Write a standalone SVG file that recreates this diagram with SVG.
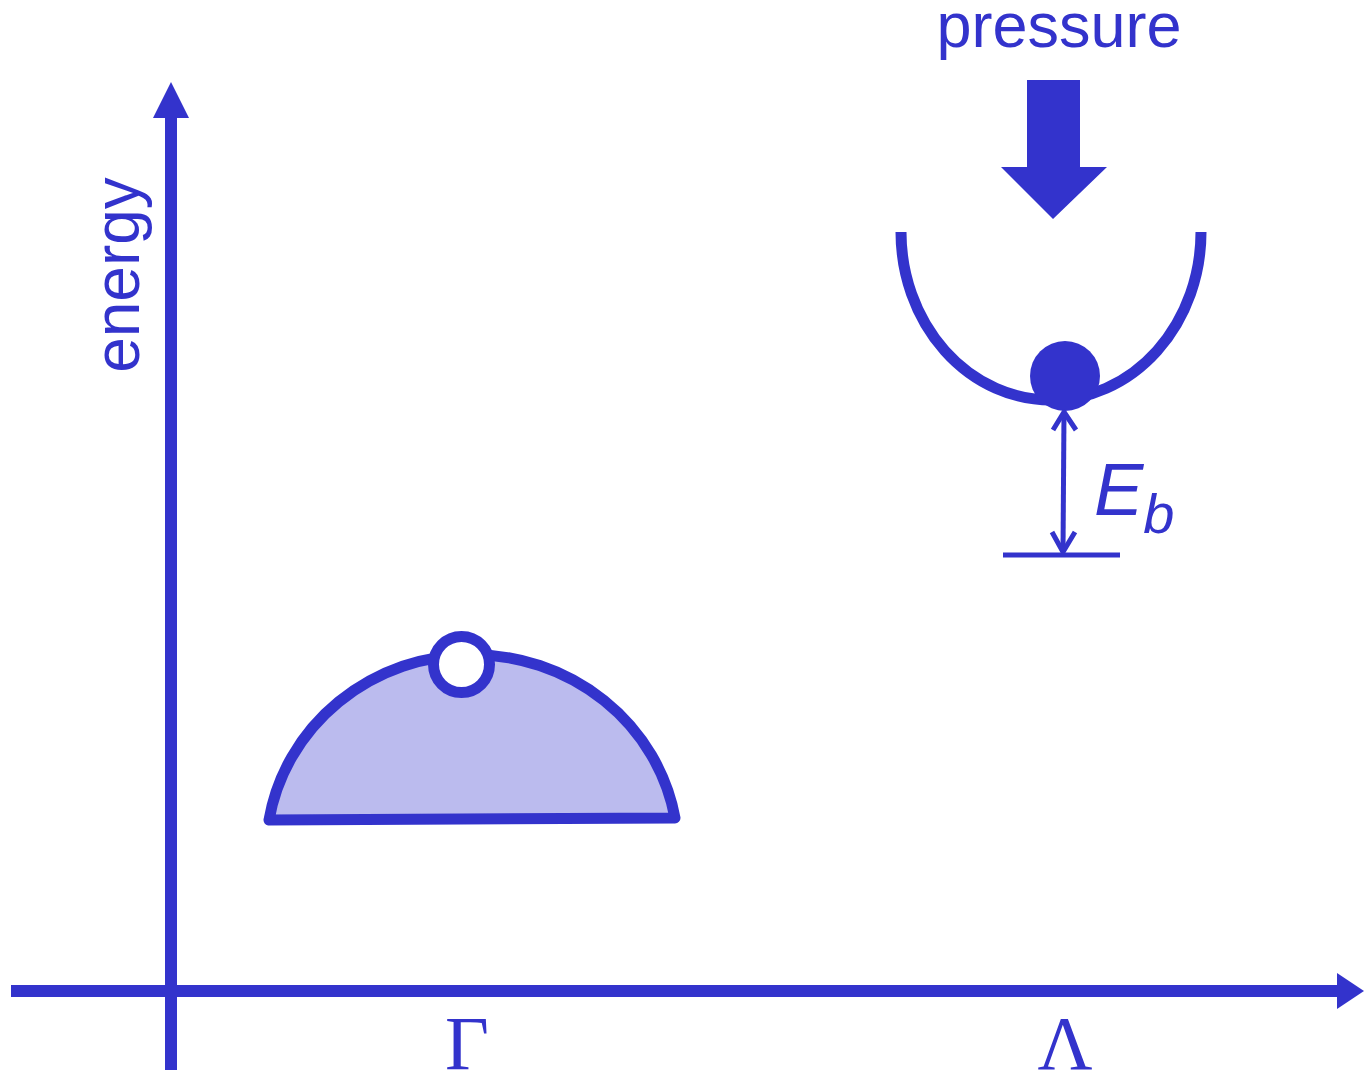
<svg xmlns="http://www.w3.org/2000/svg" width="1364" height="1074" viewBox="0 0 1364 1074">
<style>
.ln{stroke:#3333CC;fill:none;stroke-linecap:butt}
.fl{fill:#3333CC}
.sans{font-family:"Liberation Sans",Arial,sans-serif;fill:#3333CC}
.serif{font-family:"Liberation Serif","Times New Roman",serif;fill:#3333CC}
</style>
<rect width="1364" height="1074" fill="#FFFFFF"/>
<g id="axes">
<line class="ln" x1="171" y1="1070" x2="171" y2="112" stroke-width="12"/>
<polygon class="fl" points="171,82 189,118 153,118"/>
<line class="ln" x1="11" y1="991" x2="1340" y2="991" stroke-width="12"/>
<polygon class="fl" points="1364,991 1337,973 1337,1009"/>
<text class="sans" font-size="64" text-anchor="middle" transform="translate(139,275) rotate(-90)">energy</text>
<text class="serif" x="467" y="1069" font-size="76" text-anchor="middle">Γ</text>
<text class="serif" x="1065" y="1069" font-size="76" text-anchor="middle">Λ</text>
</g>
<g id="band-gamma">
<path d="M 269 820 L 675 818 A 206 198 0 0 0 269 820 Z" fill="#BBBBEE" stroke="#3333CC" stroke-width="11" stroke-linejoin="round"/>
<circle cx="461.5" cy="664.5" r="28" fill="#FFFFFF" stroke="#3333CC" stroke-width="11"/>
</g>
<g id="pressure">
<text class="sans" x="1059" y="47" font-size="63" text-anchor="middle">pressure</text>
<polygon class="fl" points="1027,80 1080,80 1080,167 1107,167 1053,219 1001,167 1027,167"/>
</g>
<g id="well-lambda">
<path class="ln" d="M 901 232 A 150 168 0 0 0 1201 232" stroke-width="11"/>
<circle class="fl" cx="1065" cy="376" r="35"/>
</g>
<g id="connectors">
<line class="ln" x1="1064" y1="412" x2="1063" y2="552" stroke-width="5"/>
<polyline class="ln" points="1053,430 1064,412 1076,430" stroke-width="5" stroke-linecap="round" stroke-linejoin="round"/>
<polyline class="ln" points="1052,532 1063,552 1075,532" stroke-width="5" stroke-linecap="round" stroke-linejoin="round"/>
<line class="ln" x1="1003" y1="555" x2="1120" y2="555" stroke-width="5"/>
</g>
<g id="eb-label">
<text class="sans" font-style="italic" font-size="74" x="1094" y="515">E<tspan font-size="56" dy="18">b</tspan></text>
</g>
</svg>
